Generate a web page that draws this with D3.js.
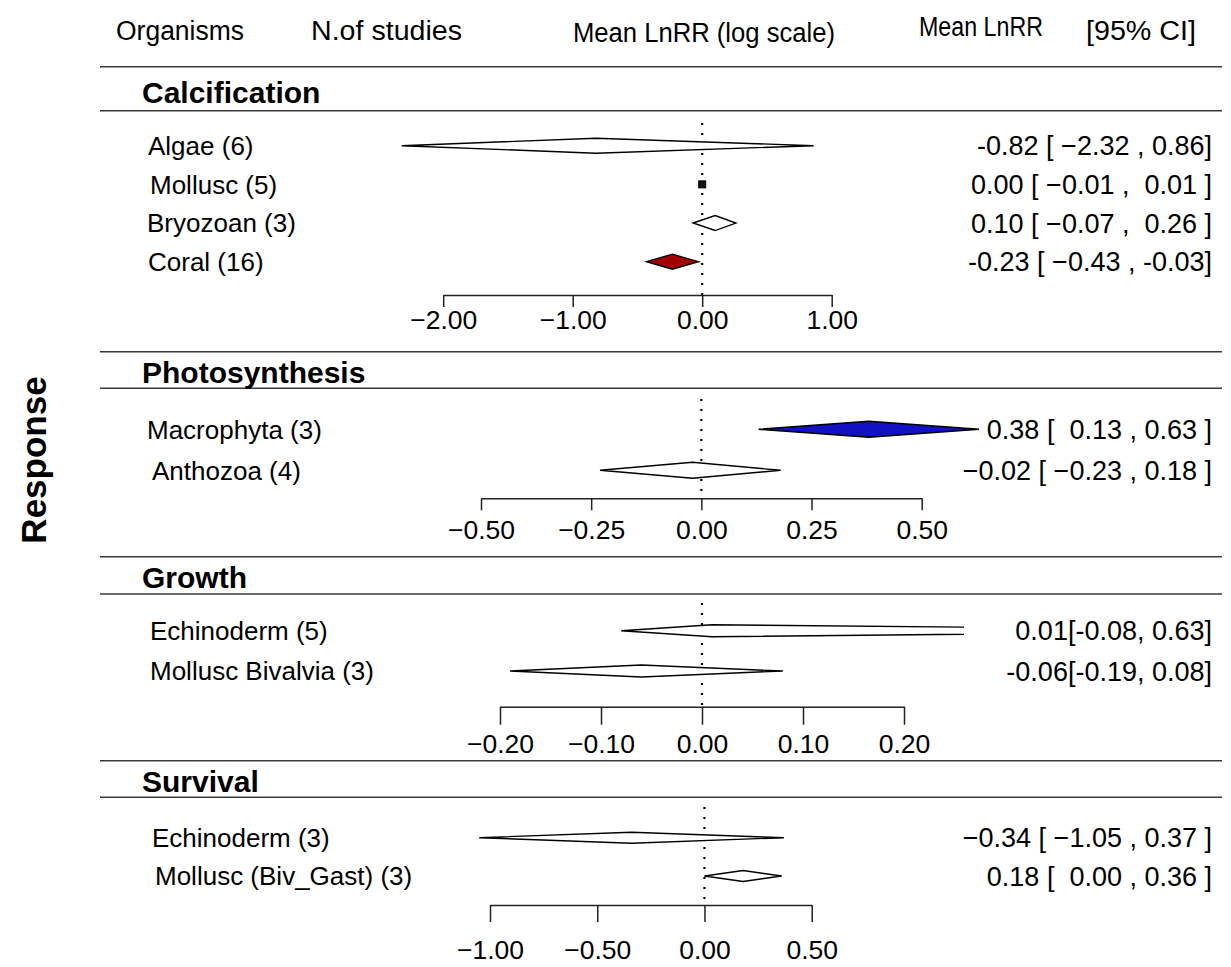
<!DOCTYPE html>
<html>
<head>
<meta charset="utf-8">
<script src="https://cdn.jsdelivr.net/npm/d3@7/dist/d3.min.js"></script>
<style>
  html, body { margin: 0; padding: 0; background: #fff; }
  svg { display: block; }
  text { font-family: "Liberation Sans", Arial, Helvetica, sans-serif; fill: #000; }
</style>
</head>
<body>
<svg id="chart" width="1231" height="967"></svg>
<script>
// ---- data ----
const headers = ["Organisms", "N.of studies", "Mean LnRR (log scale)", "Mean LnRR", "[95% CI]"];
const sections = ["Calcification", "Photosynthesis", "Growth", "Survival"];

const calcOrganisms = ["Algae (6)", "Mollusc (5)", "Bryozoan (3)", "Coral (16)"];
const calcMean = [-0.82, 0.00, 0.10, -0.23];
const calcLow  = [-2.32, -0.01, -0.07, -0.43];
const calcHigh = [0.86, 0.01, 0.26, -0.03];
const calcCI   = ["-0.82 [ \u22122.32 , 0.86]", "0.00 [ \u22120.01 ,  0.01 ]", "0.10 [ \u22120.07 ,  0.26 ]", "-0.23 [ \u22120.43 , -0.03]"];
const calcTicks = [-2, -1, 0, 1];

const photoOrganisms = ["Macrophyta (3)", "Anthozoa (4)"];
const photoMean = [0.38, -0.02];
const photoLow  = [0.13, -0.23];
const photoHigh = [0.63, 0.18];
const photoCI   = ["0.38 [  0.13 , 0.63 ]", "\u22120.02 [ \u22120.23 , 0.18 ]"];
const photoTicks = [-0.5, -0.25, 0, 0.25, 0.5];

const growthOrganisms = ["Echinoderm (5)", "Mollusc Bivalvia (3)"];
const growthMean = [0.01, -0.06];
const growthLow  = [-0.08, -0.19];
const growthHigh = [0.63, 0.08];
const growthCI   = ["0.01[-0.08, 0.63]", "-0.06[-0.19, 0.08]"];
const growthTicks = [-0.2, -0.1, 0, 0.1, 0.2];

const survOrganisms = ["Echinoderm (3)", "Mollusc (Biv_Gast) (3)"];
const survMean = [-0.34, 0.18];
const survLow  = [-1.05, 0.00];
const survHigh = [0.37, 0.36];
const survCI   = ["\u22120.34 [ \u22121.05 , 0.37 ]", "0.18 [  0.00 , 0.36 ]"];
const survTicks = [-1, -0.5, 0, 0.5];

// ---- styling ----
const highlightFill = { "Coral (16)": "#a30000", "Macrophyta (3)": "#1212c4" };
const FONT = '"Liberation Sans", Arial, Helvetica, sans-serif';

// ---- layout for each response block ----
const blocks = [
  { name: sections[0], org: calcOrganisms, mean: calcMean, low: calcLow, high: calcHigh, ci: calcCI, ticks: calcTicks,
    lineTop: 66.7, lineBottom: 110.7, titleY: 102.7, rowFirst: 145.7, rowLast: 261.7, axisY: 295,
    x0: 443.2, x1: 831.7, tickLen: 12, tickPad: 3, halfH: 7.5, dotTop: 123, labelX: [148, 150, 147, 148] },
  { name: sections[1], org: photoOrganisms, mean: photoMean, low: photoLow, high: photoHigh, ci: photoCI, ticks: photoTicks,
    lineTop: 351.7, lineBottom: 388.3, titleY: 382.7, rowFirst: 429.3, rowLast: 470.3, axisY: 498.3,
    x0: 481, x1: 921.7, tickLen: 12, tickPad: 9.5, halfH: 8, dotTop: 399, labelX: [147, 152] },
  { name: sections[2], org: growthOrganisms, mean: growthMean, low: growthLow, high: growthHigh, ci: growthCI, ticks: growthTicks,
    lineTop: 556.7, lineBottom: 594, titleY: 588.3, rowFirst: 630.7, rowLast: 671, axisY: 706.7,
    x0: 500, x1: 904, tickLen: 18, tickPad: 9, halfH: 6, dotTop: 603, labelX: [150, 150] },
  { name: sections[3], org: survOrganisms, mean: survMean, low: survLow, high: survHigh, ci: survCI, ticks: survTicks,
    lineTop: 760.7, lineBottom: 797.3, titleY: 792, rowFirst: 837.7, rowLast: 876, axisY: 905,
    x0: 490, x1: 811.7, tickLen: 17, tickPad: 18, halfH: 5.5, dotTop: 807, labelX: [152, 155] }
];

const svg = d3.select("#chart");
svg.append("rect").attr("width", 1231).attr("height", 967).attr("fill", "#fff");

// column headers
const headerPos = [
  { x: 116, y: 40, w: 128 },
  { x: 311, y: 40, w: 151 },
  { x: 573, y: 42, w: 262 },
  { x: 919, y: 36, w: 124 },
  { x: 1086, y: 40, w: 110 }
];
svg.append("g").selectAll("text").data(headers).join("text")
  .attr("x", (d, i) => headerPos[i].x)
  .attr("y", (d, i) => headerPos[i].y)
  .attr("font-size", 27)
  .attr("textLength", (d, i) => headerPos[i].w)
  .attr("lengthAdjust", "spacingAndGlyphs")
  .text(d => d);

// vertical title
svg.append("text")
  .attr("transform", "translate(46,460) rotate(-90)")
  .attr("text-anchor", "middle")
  .attr("font-size", 35)
  .attr("font-weight", "bold")
  .text("Response");

const defs = svg.append("defs");

blocks.forEach((b, bi) => {
  const g = svg.append("g");

  // separator rules above and below the block title
  [b.lineTop, b.lineBottom].forEach(y => {
    g.append("line").attr("x1", 100).attr("x2", 1222).attr("y1", y).attr("y2", y)
      .attr("stroke", "#3a3a3a").attr("stroke-width", 1.6);
  });

  g.append("text").attr("x", 142).attr("y", b.titleY)
    .attr("font-size", 30).attr("font-weight", "bold").text(b.name);

  const x = d3.scaleLinear()
    .domain([b.ticks[0], b.ticks[b.ticks.length - 1]])
    .range([b.x0, b.x1]);
  const y = d3.scalePoint().domain(b.org).range([b.rowFirst, b.rowLast]);

  // zero reference line
  g.append("line")
    .attr("x1", x(0)).attr("x2", x(0))
    .attr("y1", b.dotTop).attr("y2", b.axisY)
    .attr("stroke", "#000").attr("stroke-width", 2.2)
    .attr("stroke-dasharray", "2,8");

  // plotting region clip so very wide intervals stay left of the value column
  const clipId = "clip" + bi;
  defs.append("clipPath").attr("id", clipId).append("rect")
    .attr("x", b.x0 - 60).attr("y", b.lineBottom)
    .attr("width", (b.x1 - b.x0) + 120).attr("height", b.axisY - b.lineBottom);

  const marks = g.append("g").attr("clip-path", `url(#${clipId})`);
  b.org.forEach((name, i) => {
    const cx = x(b.mean[i]), lx = x(b.low[i]), hx = x(b.high[i]), cy = y(name);
    if (hx - lx < 6) {
      // interval too narrow for a diamond: draw a small square at the estimate
      marks.append("rect")
        .attr("x", cx - 3.5).attr("y", cy - 3.5).attr("width", 7).attr("height", 7)
        .attr("fill", "#111").attr("stroke", "#000").attr("stroke-width", 1);
    } else {
      const h = b.halfH;
      marks.append("path")
        .attr("d", `M${lx},${cy}L${cx},${cy - h}L${hx},${cy}L${cx},${cy + h}Z`)
        .attr("fill", highlightFill[name] || "#fff")
        .attr("stroke", "#000").attr("stroke-width", 1.4)
        .attr("stroke-linejoin", "miter");
    }
  });

  // organism labels
  g.append("g").selectAll("text").data(b.org).join("text")
    .attr("x", (d, i) => b.labelX[i]).attr("y", d => y(d)).attr("dy", "0.36em")
    .attr("font-size", 26).text(d => d);

  // estimate and interval labels (spacing inside the strings is kept)
  g.append("g").selectAll("text").data(b.ci).join("text")
    .attr("x", 1212).attr("y", (d, i) => y(b.org[i])).attr("dy", "0.36em")
    .attr("text-anchor", "end").attr("font-size", 27)
    .attr("xml:space", "preserve").style("white-space", "pre")
    .text(d => d);

  // axis
  const axis = d3.axisBottom(x).tickValues(b.ticks)
    .tickFormat(d3.format(".2f")).tickSize(b.tickLen).tickSizeOuter(0).tickPadding(b.tickPad);
  const ag = g.append("g").attr("transform", `translate(0,${b.axisY})`).call(axis);
  ag.select(".domain").attr("stroke", "#222").attr("stroke-width", 1.5);
  ag.selectAll(".tick line").attr("stroke", "#222").attr("stroke-width", 1.5);
  ag.selectAll(".tick text").attr("font-size", 26.5).attr("font-family", FONT).attr("fill", "#000");
});
</script>
</body>
</html>
